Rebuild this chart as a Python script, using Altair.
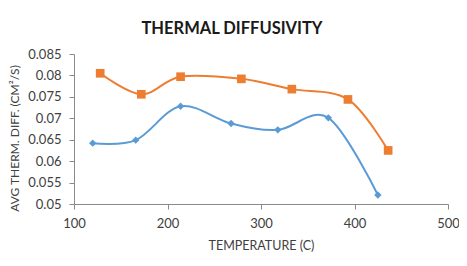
import altair as alt
import pandas as pd

blue_t = [120, 166, 214, 268, 318, 372, 425]
blue_v = [0.0642, 0.0649, 0.0728, 0.0688, 0.0673, 0.0701, 0.0521]
orange_t = [128, 172, 214, 279, 333, 393, 436]
orange_v = [0.0805, 0.0756, 0.0797, 0.0792, 0.0768, 0.0744, 0.0625]

df_b = pd.DataFrame({"t": blue_t, "v": blue_v})
df_o = pd.DataFrame({"t": orange_t, "v": orange_v})

xs = alt.Scale(domain=[100, 500], nice=False, zero=False)
ys = alt.Scale(domain=[0.05, 0.085], nice=False, zero=False)

xax = alt.Axis(values=[100, 200, 300, 400, 500], title="TEMPERATURE (C)", grid=False,
               labelFontSize=13, titleFontSize=12.5, titleFontWeight="normal",
               tickSize=5, labelPadding=8, titlePadding=9, labelColor="#404040",
               labelFlush=False,
               titleColor="#404040", domainColor="#8a8a8a", tickColor="#8a8a8a")
yax = alt.Axis(values=[0.05, 0.055, 0.06, 0.065, 0.07, 0.075, 0.08, 0.085],
               title="AVG THERM. DIFF. (CM²/S)", grid=False, format="~g",
               labelFontSize=13, titleFontSize=12, titleFontWeight="normal",
               tickSize=5, labelPadding=8, titleX=-53, titleY=84, labelFlush=False,
               labelColor="#404040",
               titleColor="#404040", domainColor="#8a8a8a", tickColor="#8a8a8a")

def series(df, color, shape, size):
    x = alt.X("t:Q", scale=xs, axis=xax)
    y = alt.Y("v:Q", scale=ys, axis=yax)
    line = alt.Chart(df).mark_line(color=color, strokeWidth=2, interpolate="cardinal").encode(x=x, y=y)
    pts = alt.Chart(df).mark_point(shape=shape, filled=True, color=color, size=size, opacity=1).encode(x=x, y=y)
    return line + pts

chart = alt.layer(
    series(df_b, "#5B9BD5", "diamond", 55),
    series(df_o, "#ED7D31", "square", 75),
).properties(
    width=374, height=150,
    title=alt.TitleParams("THERMAL DIFFUSIVITY", fontSize=16.5, fontWeight="bold",
                          color="#1a1a1a", dx=-29, offset=11, anchor="middle"),
    autosize=alt.AutoSizeParams(type="none"),
    padding={"left": 66, "top": 46, "right": 11, "bottom": 54},
).configure(font="Lato").configure_view(strokeWidth=0)

chart.save("out.html", embed_options={"renderer": "svg", "actions": False})
